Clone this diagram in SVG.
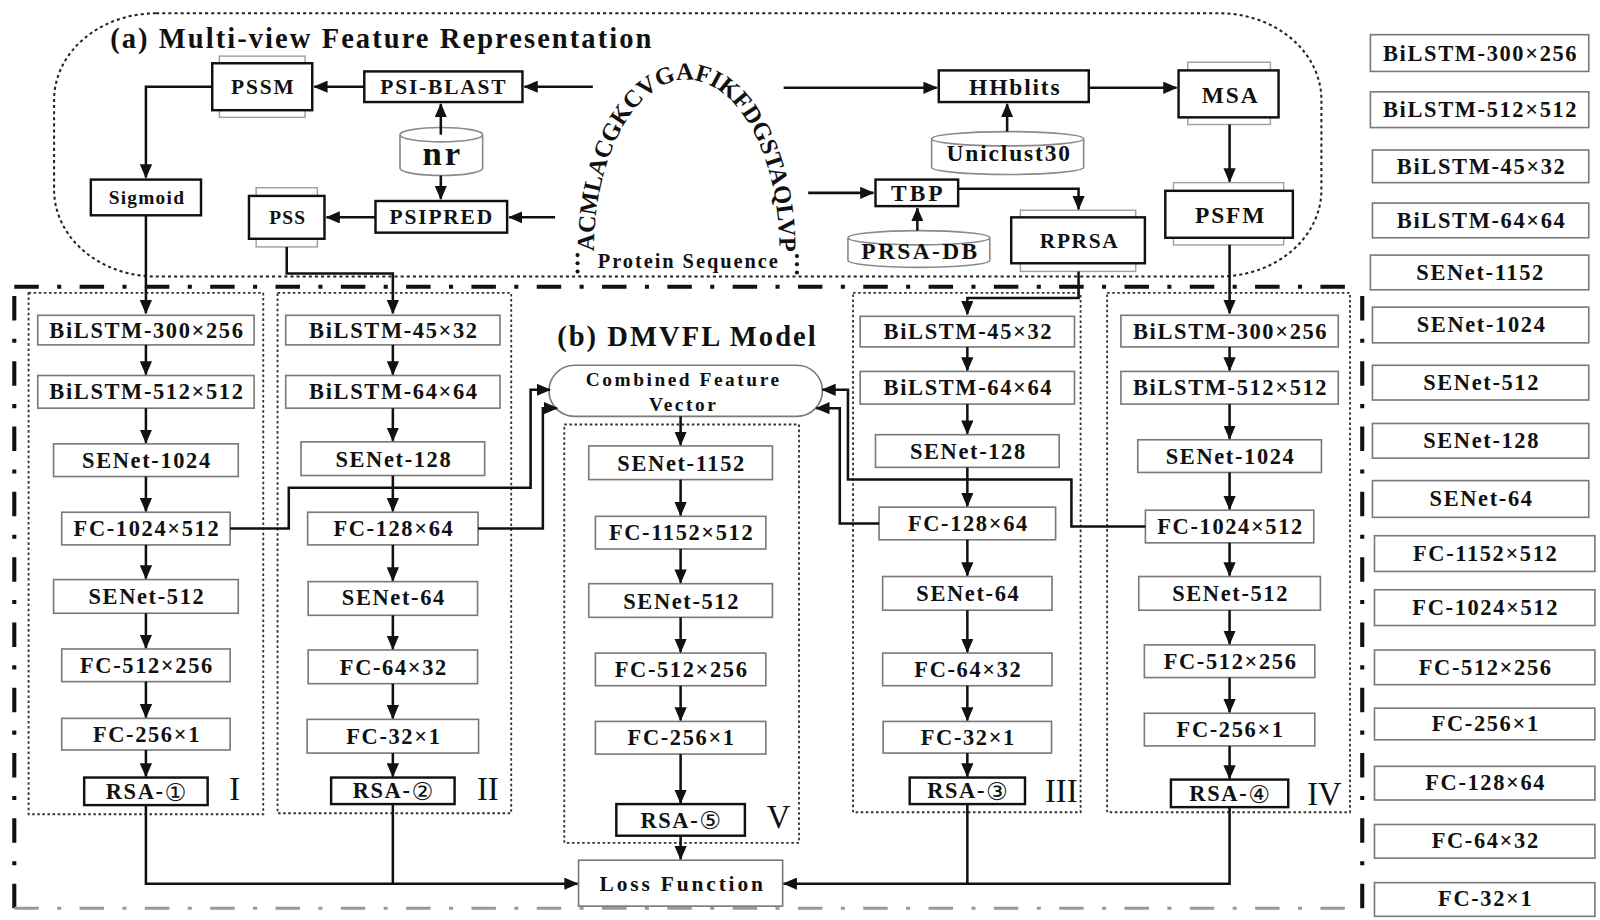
<svg xmlns="http://www.w3.org/2000/svg" width="1600" height="920" viewBox="0 0 1600 920">
<defs>
<marker id="ah" markerUnits="userSpaceOnUse" markerWidth="14" markerHeight="12" viewBox="0 0 14 12" refX="13" refY="6" orient="auto">
<path d="M0,0 L14,6 L0,12 z" fill="#111"/>
</marker>
<path id="seqArc" d="M 582,246 A 91,168 0 0 1 764,246"/>
</defs>
<style>
.bx{fill:#fff;stroke:#7a7a7a;stroke-width:1.6}
.bk{fill:#fff;stroke:#111;stroke-width:2.4}
.sh{fill:#fff;stroke:#a0a0a0;stroke-width:1.4}
.cyl{fill:#fff;stroke:#8a8a8a;stroke-width:1.6}
.dot{fill:none;stroke:#333;stroke-width:1.8;stroke-dasharray:2.5 2.5}
.ln{fill:none;stroke:#111;stroke-width:2.5}
.ar{marker-end:url(#ah)}
.tx{font-family:"Liberation Serif","Times New Roman",serif;font-weight:bold;fill:#111;text-anchor:middle;dominant-baseline:central}
.s21{font-size:22px;letter-spacing:1.6px}
.s20{font-size:21px;letter-spacing:1.8px}
.s22{font-size:23px;letter-spacing:1.8px}
.s18{font-size:19px;letter-spacing:1.2px}
.ttl{font-family:"Liberation Serif","Times New Roman",serif;font-weight:bold;fill:#111;font-size:28px;letter-spacing:2px}
.rn{font-family:"Liberation Serif","Times New Roman",serif;font-weight:normal;fill:#111;font-size:32px;text-anchor:middle;dominant-baseline:central}
.cd{font-family:"DejaVu Sans","Noto Sans CJK SC",sans-serif;font-weight:normal;font-size:24px}
</style>
<g transform="scale(1.0204)">
<g id="frames">
<rect x="53" y="13" width="1242" height="258" rx="100" ry="85" fill="none" stroke="#222" stroke-width="2" stroke-dasharray="3 3"/>
<g fill="none" stroke="#111" stroke-width="4" stroke-dasharray="24 18 4 18">
<line x1="14" y1="281" x2="1335" y2="281"/>
<line x1="14" y1="290" x2="14" y2="890"/>
<line x1="1335" y1="290" x2="1335" y2="890"/>
</g>
<line x1="14" y1="890" x2="1335" y2="890" fill="none" stroke="#999" stroke-width="3" stroke-dasharray="24 18 4 18"/>
<rect class="dot" x="28" y="287" width="230" height="511"/>
<rect class="dot" x="272" y="287" width="229" height="510"/>
<rect class="dot" x="553" y="416" width="230" height="410"/>
<rect class="dot" x="836" y="287" width="223" height="509"/>
<rect class="dot" x="1085" y="287" width="238" height="509"/>
<text class="ttl" x="108" y="47">(a) Multi-view Feature Representation</text>
<text class="ttl" x="546" y="339">(b) DMVFL Model</text>
</g>

<g id="sequence">
<text class="tx" style="font-size:24px;letter-spacing:-0.1px;text-anchor:start;dominant-baseline:alphabetic"><textPath href="#seqArc">ACMLACGKCVGAFIKFDGSTAQLVP</textPath></text>
<g fill="#111">
<circle cx="566" cy="250" r="2"/><circle cx="566" cy="258" r="2"/><circle cx="566" cy="266" r="2"/>
<circle cx="781" cy="251" r="2"/><circle cx="781" cy="259" r="2"/><circle cx="781" cy="267" r="2"/>
</g>
<text class="tx" x="675" y="256" style="font-size:20px;letter-spacing:1.9px">Protein Sequence</text>
</g>

<g id="pssm"><rect class="sh" x="215" y="55" width="84" height="60"/><rect class="bk" x="208" y="62" width="98" height="46"/><text class="tx s20" x="258" y="85">PSSM</text></g>
<g id="psiblast"><rect class="bk" x="357" y="70" width="155" height="30"/><text class="tx s20" x="435" y="85">PSI-BLAST</text></g>
<g id="nr"><path class="cyl" d="M392,132 A40.5,7 0 0 1 473,132 L473,165 A40.5,7 0 0 1 392,165 Z M392,132 A40.5,7 0 0 0 473,132"/><text class="tx" x="434" y="150" style="font-size:34px;letter-spacing:3px">nr</text></g>
<g id="psipred"><rect class="bk" x="368" y="197" width="129" height="31"/><text class="tx s20" x="433" y="213">PSIPRED</text></g>
<g id="pss"><rect class="sh" x="251" y="184" width="60" height="58"/><rect class="bk" x="244" y="192" width="74" height="42"/><text class="tx s18" x="282" y="213">PSS</text></g>
<g id="sigmoid"><rect class="bk" x="89" y="176" width="108" height="35"/><text class="tx s18" x="144" y="194">Sigmoid</text></g>
<g id="hhblits"><rect class="bk" x="920" y="69" width="147" height="31"/><text class="tx s22" x="995" y="85">HHblits</text></g>
<g id="uniclust30"><path class="cyl" d="M913,136 A74.5,7 0 0 1 1062,136 L1062,164 A74.5,7 0 0 1 913,164 Z M913,136 A74.5,7 0 0 0 1062,136"/><text class="tx s22" x="989" y="150">Uniclust30</text></g>
<g id="msa"><rect class="sh" x="1164" y="61" width="81" height="61"/><rect class="bk" x="1155" y="69" width="98" height="46"/><text class="tx s22" x="1206" y="93">MSA</text></g>
<g id="psfm"><rect class="sh" x="1150" y="179" width="108" height="61"/><rect class="bk" x="1142" y="187" width="125" height="46"/><text class="tx s22" x="1206" y="211">PSFM</text></g>
<g id="tbp"><rect class="bk" x="858" y="176" width="81" height="26"/><text class="tx s22" x="900" y="189" style="letter-spacing:3px">TBP</text></g>
<g id="prsadb"><path class="cyl" d="M831,233 A69.5,7 0 0 1 970,233 L970,255 A69.5,7 0 0 1 831,255 Z M831,233 A69.5,7 0 0 0 970,233"/><text class="tx s22" x="902" y="246" style="letter-spacing:2.3px">PRSA-DB</text></g>
<g id="rprsa"><rect class="sh" x="1000" y="206" width="113" height="60"/><rect class="bk" x="991" y="213" width="131" height="45"/><text class="tx" x="1058" y="236" style="font-size:21px;letter-spacing:1.6px">RPRSA</text></g>

<g id="col1">
<g id="c1b1"><rect class="bx" x="37" y="309" width="212" height="29"/><text class="tx s21" x="144" y="324">BiLSTM-300×256</text></g>
<g id="c1b2"><rect class="bx" x="37" y="368" width="212" height="32"/><text class="tx s21" x="144" y="384">BiLSTM-512×512</text></g>
<g id="c1b3"><rect class="bx" x="52.5" y="435" width="181" height="32"/><text class="tx s21" x="144" y="451">SENet-1024</text></g>
<g id="c1b4"><rect class="bx" x="60.5" y="502" width="165" height="32"/><text class="tx s21" x="144" y="518">FC-1024×512</text></g>
<g id="c1b5"><rect class="bx" x="52.5" y="568" width="181" height="33"/><text class="tx s21" x="144" y="585">SENet-512</text></g>
<g id="c1b6"><rect class="bx" x="60.5" y="636" width="165" height="32"/><text class="tx s21" x="144" y="652">FC-512×256</text></g>
<g id="c1b7"><rect class="bx" x="60.5" y="704" width="165" height="31"/><text class="tx s21" x="144" y="720">FC-256×1</text></g>
<g id="c1b8"><rect class="bk" x="82.5" y="762" width="121" height="27"/><text class="tx s21" x="144" y="776">RSA-<tspan class="cd">①</tspan></text></g>
<text class="rn" x="230" y="773">I</text>
</g>

<g id="col2">
<g id="c2b1"><rect class="bx" x="280" y="309" width="210" height="29"/><text class="tx s21" x="386" y="324">BiLSTM-45×32</text></g>
<g id="c2b2"><rect class="bx" x="280" y="368" width="210" height="32"/><text class="tx s21" x="386" y="384">BiLSTM-64×64</text></g>
<g id="c2b3"><rect class="bx" x="295" y="433" width="180" height="33"/><text class="tx s21" x="386" y="450">SENet-128</text></g>
<g id="c2b4"><rect class="bx" x="301.5" y="502" width="167" height="32"/><text class="tx s21" x="386" y="518">FC-128×64</text></g>
<g id="c2b5"><rect class="bx" x="302" y="570" width="166" height="33"/><text class="tx s21" x="386" y="586">SENet-64</text></g>
<g id="c2b6"><rect class="bx" x="302" y="637" width="166" height="33"/><text class="tx s21" x="386" y="654">FC-64×32</text></g>
<g id="c2b7"><rect class="bx" x="301" y="705" width="168" height="33"/><text class="tx s21" x="386" y="722">FC-32×1</text></g>
<g id="c2b8"><rect class="bk" x="324.5" y="762" width="121" height="26"/><text class="tx s21" x="386" y="775">RSA-<tspan class="cd">②</tspan></text></g>
<text class="rn" x="478" y="773">II</text>
</g>

<g id="col5">
<g id="cfv"><rect x="538" y="358" width="268" height="50" rx="25" ry="25" fill="#fff" stroke="#7a7a7a" stroke-width="1.6"/><text class="tx" x="670" y="372" style="font-size:19px;letter-spacing:2.5px">Combined Feature</text><text class="tx" x="670" y="396" style="font-size:19px;letter-spacing:2.5px">Vector</text></g>
<g id="c5b1"><rect class="bx" x="577" y="437" width="180" height="33"/><text class="tx s21" x="668" y="454">SENet-1152</text></g>
<g id="c5b2"><rect class="bx" x="583.5" y="506" width="167" height="32"/><text class="tx s21" x="668" y="522">FC-1152×512</text></g>
<g id="c5b3"><rect class="bx" x="577" y="572" width="180" height="33"/><text class="tx s21" x="668" y="589">SENet-512</text></g>
<g id="c5b4"><rect class="bx" x="583.5" y="640" width="167" height="32"/><text class="tx s21" x="668" y="656">FC-512×256</text></g>
<g id="c5b5"><rect class="bx" x="583.5" y="707" width="167" height="32"/><text class="tx s21" x="668" y="723">FC-256×1</text></g>
<g id="c5b6"><rect class="bk" x="604" y="788" width="126" height="31"/><text class="tx s21" x="668" y="804">RSA-<tspan class="cd">⑤</tspan></text></g>
<text class="rn" x="763" y="801">V</text>
<g id="loss"><rect class="bx" x="567" y="843" width="200" height="45"/><text class="tx" x="669" y="866" style="font-size:21px;letter-spacing:2.8px">Loss Function</text></g>
</g>

<g id="col3">
<g id="c3b1"><rect class="bx" x="843" y="310" width="210" height="30"/><text class="tx s21" x="949" y="325">BiLSTM-45×32</text></g>
<g id="c3b2"><rect class="bx" x="843" y="364" width="210" height="32"/><text class="tx s21" x="949" y="380">BiLSTM-64×64</text></g>
<g id="c3b3"><rect class="bx" x="858" y="426" width="180" height="32"/><text class="tx s21" x="949" y="442">SENet-128</text></g>
<g id="c3b4"><rect class="bx" x="861.5" y="497" width="173" height="32"/><text class="tx s21" x="949" y="513">FC-128×64</text></g>
<g id="c3b5"><rect class="bx" x="865" y="565" width="166" height="33"/><text class="tx s21" x="949" y="582">SENet-64</text></g>
<g id="c3b6"><rect class="bx" x="865" y="640" width="166" height="32"/><text class="tx s21" x="949" y="656">FC-64×32</text></g>
<g id="c3b7"><rect class="bx" x="865.5" y="707" width="165" height="31"/><text class="tx s21" x="949" y="723">FC-32×1</text></g>
<g id="c3b8"><rect class="bk" x="891.5" y="762" width="113" height="26"/><text class="tx s21" x="949" y="775">RSA-<tspan class="cd">③</tspan></text></g>
<text class="rn" x="1040" y="775">III</text>
</g>

<g id="col4">
<g id="c4b1"><rect class="bx" x="1098.5" y="309" width="213" height="31"/><text class="tx s21" x="1206" y="325">BiLSTM-300×256</text></g>
<g id="c4b2"><rect class="bx" x="1098.5" y="364" width="213" height="32"/><text class="tx s21" x="1206" y="380">BiLSTM-512×512</text></g>
<g id="c4b3"><rect class="bx" x="1115" y="431" width="180" height="32"/><text class="tx s21" x="1206" y="447">SENet-1024</text></g>
<g id="c4b4"><rect class="bx" x="1122.5" y="500" width="165" height="32"/><text class="tx s21" x="1206" y="516">FC-1024×512</text></g>
<g id="c4b5"><rect class="bx" x="1116" y="565" width="178" height="33"/><text class="tx s21" x="1206" y="582">SENet-512</text></g>
<g id="c4b6"><rect class="bx" x="1121.5" y="632" width="167" height="32"/><text class="tx s21" x="1206" y="648">FC-512×256</text></g>
<g id="c4b7"><rect class="bx" x="1121.5" y="699" width="167" height="32"/><text class="tx s21" x="1206" y="715">FC-256×1</text></g>
<g id="c4b8"><rect class="bk" x="1147.5" y="764" width="115" height="27"/><text class="tx s21" x="1206" y="778">RSA-<tspan class="cd">④</tspan></text></g>
<text class="rn" x="1298" y="778">IV</text>
</g>

<g id="legend">
<g id="lg1"><rect class="bx" x="1343" y="34" width="214" height="36"/><text class="tx s21" x="1451" y="52">BiLSTM-300×256</text></g>
<g id="lg2"><rect class="bx" x="1343" y="90" width="214" height="35"/><text class="tx s21" x="1451" y="107">BiLSTM-512×512</text></g>
<g id="lg3"><rect class="bx" x="1345" y="147" width="212" height="32"/><text class="tx s21" x="1452" y="163">BiLSTM-45×32</text></g>
<g id="lg4"><rect class="bx" x="1345" y="199" width="212" height="34"/><text class="tx s21" x="1452" y="216">BiLSTM-64×64</text></g>
<g id="lg5"><rect class="bx" x="1343" y="250" width="214" height="34"/><text class="tx s21" x="1451" y="267">SENet-1152</text></g>
<g id="lg6"><rect class="bx" x="1345" y="301" width="212" height="35"/><text class="tx s21" x="1452" y="318">SENet-1024</text></g>
<g id="lg7"><rect class="bx" x="1345" y="358" width="212" height="34"/><text class="tx s21" x="1452" y="375">SENet-512</text></g>
<g id="lg8"><rect class="bx" x="1345" y="415" width="212" height="34"/><text class="tx s21" x="1452" y="432">SENet-128</text></g>
<g id="lg9"><rect class="bx" x="1345" y="471" width="212" height="36"/><text class="tx s21" x="1452" y="489">SENet-64</text></g>
<g id="lg10"><rect class="bx" x="1347" y="525" width="216" height="35"/><text class="tx s21" x="1456" y="542">FC-1152×512</text></g>
<g id="lg11"><rect class="bx" x="1347" y="578" width="216" height="35"/><text class="tx s21" x="1456" y="595">FC-1024×512</text></g>
<g id="lg12"><rect class="bx" x="1347" y="637" width="216" height="34"/><text class="tx s21" x="1456" y="654">FC-512×256</text></g>
<g id="lg13"><rect class="bx" x="1347" y="694" width="216" height="31"/><text class="tx s21" x="1456" y="709">FC-256×1</text></g>
<g id="lg14"><rect class="bx" x="1347" y="751" width="216" height="33"/><text class="tx s21" x="1456" y="767">FC-128×64</text></g>
<g id="lg15"><rect class="bx" x="1347" y="808" width="216" height="33"/><text class="tx s21" x="1456" y="824">FC-64×32</text></g>
<g id="lg16"><rect class="bx" x="1347" y="865" width="216" height="33"/><text class="tx s21" x="1456" y="881">FC-32×1</text></g>
</g>

<g id="connectors">
<path class="ln ar" d="M581,85 H514"/>
<path class="ln ar" d="M357,85 H308"/>
<path class="ln ar" d="M208,85 H143 V174"/>
<path class="ln ar" d="M143,211 V307"/>
<path class="ln ar" d="M432,132 V102"/>
<path class="ln ar" d="M432,172 V195"/>
<path class="ln ar" d="M544,213 H499"/>
<path class="ln ar" d="M368,213 H320"/>
<path class="ln ar" d="M281,242 V268 H385 V307"/>
<path class="ln ar" d="M768,86 H918"/>
<path class="ln ar" d="M987,129 V102"/>
<path class="ln ar" d="M1067,86 H1153"/>
<path class="ln ar" d="M1205,122 V178"/>
<path class="ln ar" d="M1205,240 V307"/>
<path class="ln ar" d="M792,189 H856"/>
<path class="ln ar" d="M899,226 V204"/>
<path class="ln ar" d="M939,185 H1057 V205"/>
<path class="ln ar" d="M1057,266 V292 H948 V308"/>
<path class="ln ar" d="M143,338 V367"/>
<path class="ln ar" d="M143,400 V434"/>
<path class="ln ar" d="M143,467 V501"/>
<path class="ln ar" d="M143,534 V567"/>
<path class="ln ar" d="M143,601 V635"/>
<path class="ln ar" d="M143,668 V703"/>
<path class="ln ar" d="M143,735 V761"/>
<path class="ln ar" d="M385,338 V367"/>
<path class="ln ar" d="M385,400 V432"/>
<path class="ln ar" d="M385,466 V501"/>
<path class="ln ar" d="M385,534 V569"/>
<path class="ln ar" d="M385,603 V636"/>
<path class="ln ar" d="M385,670 V704"/>
<path class="ln ar" d="M385,738 V761"/>
<path class="ln ar" d="M667,408 V436"/>
<path class="ln ar" d="M667,470 V505"/>
<path class="ln ar" d="M667,538 V571"/>
<path class="ln ar" d="M667,605 V639"/>
<path class="ln ar" d="M667,672 V706"/>
<path class="ln ar" d="M667,739 V787"/>
<path class="ln ar" d="M667,819 V842"/>
<path class="ln ar" d="M948,340 V363"/>
<path class="ln ar" d="M948,396 V425"/>
<path class="ln ar" d="M948,458 V496"/>
<path class="ln ar" d="M948,529 V564"/>
<path class="ln ar" d="M948,598 V639"/>
<path class="ln ar" d="M948,672 V706"/>
<path class="ln ar" d="M948,738 V761"/>
<path class="ln ar" d="M1205,340 V363"/>
<path class="ln ar" d="M1205,396 V430"/>
<path class="ln ar" d="M1205,463 V499"/>
<path class="ln ar" d="M1205,532 V564"/>
<path class="ln ar" d="M1205,598 V631"/>
<path class="ln ar" d="M1205,664 V698"/>
<path class="ln ar" d="M1205,731 V763"/>
<path class="ln ar" d="M225.5,518 H283 V478 H520 V382 H539"/>
<path class="ln ar" d="M468.5,518 H532 V400 H546"/>
<path class="ln ar" d="M861.5,513 H823 V400 H800"/>
<path class="ln ar" d="M1122.5,516 H1050 V470 H831 V382 H806"/>
<path class="ln ar" d="M143,789 V866 H566"/>
<path class="ln" d="M385,788 V866"/>
<path class="ln ar" d="M1205,791 V866 H768"/>
<path class="ln" d="M948,788 V866"/>
</g>
</g>
</svg>
